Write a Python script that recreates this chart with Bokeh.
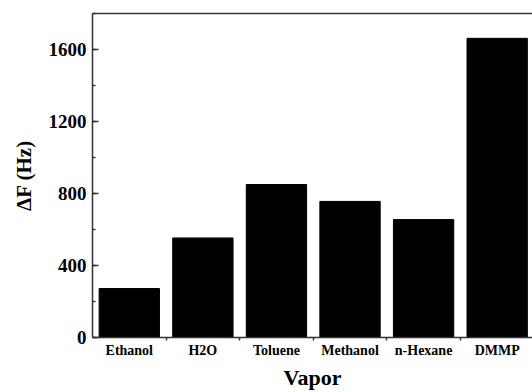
from bokeh.plotting import figure
from bokeh.models import Range1d, LinearAxis, FixedTicker, SingleIntervalTicker
from bokeh.embed import file_html
from bokeh.resources import INLINE

categories = ["Ethanol", "H2O", "Toluene", "Methanol", "n-Hexane", "DMMP"]
values = [272, 553, 850, 756, 655, 1662]
y_ticks_interval = 400

FONT = "Liberation Serif"

xs = list(range(len(categories)))

p = figure(width=532, height=392, output_backend="svg", toolbar_location=None,
           x_range=Range1d(-0.5, len(categories) - 0.52), y_range=Range1d(0, 1800),
           x_axis_type=None, y_axis_type=None,
           min_border_left=92, min_border_right=0, min_border_top=13, min_border_bottom=54)
p.outline_line_color = None
p.background_fill_color = "white"
p.border_fill_color = "white"
p.xgrid.visible = False
p.ygrid.visible = False

p.vbar(x=xs, top=values, width=0.82, fill_color="black", line_color="black", line_width=1)

# left axis
yax = LinearAxis(ticker=SingleIntervalTicker(interval=y_ticks_interval, num_minor_ticks=2))
yax.axis_line_color = "#333333"
yax.axis_line_width = 1.5
yax.major_tick_in = 6
yax.major_tick_out = 0
yax.minor_tick_in = 3
yax.minor_tick_out = 0
yax.major_tick_line_color = "#333333"
yax.minor_tick_line_color = "#333333"
yax.major_tick_line_width = 1.5
yax.minor_tick_line_width = 1.5
yax.major_label_standoff = 6
yax.major_label_text_font = FONT
yax.major_label_text_font_style = "bold"
yax.major_label_text_font_size = "19px"
yax.major_label_text_color = "black"
yax.axis_label = "ΔF (Hz)"
yax.axis_label_text_font = FONT
yax.axis_label_text_font_style = "bold"
yax.axis_label_text_font_size = "21px"
yax.axis_label_text_color = "black"
yax.axis_label_standoff = 10
p.add_layout(yax, "left")

# bottom axis
xax = LinearAxis(ticker=FixedTicker(ticks=xs, minor_ticks=[i + 0.5 for i in xs[:-1]]))
xax.major_label_overrides = {i: c for i, c in zip(xs, categories)}
xax.axis_line_color = "#333333"
xax.axis_line_width = 1.5
xax.major_tick_line_color = None
xax.major_tick_in = 0
xax.major_tick_out = 3
xax.minor_tick_in = 0
xax.minor_tick_out = 3
xax.minor_tick_line_color = "#333333"
xax.minor_tick_line_width = 1.5
xax.major_label_standoff = 2
xax.major_label_text_font = FONT
xax.major_label_text_font_style = "bold"
xax.major_label_text_font_size = "14px"
xax.major_label_text_color = "black"
xax.axis_label = "Vapor"
xax.axis_label_text_font = FONT
xax.axis_label_text_font_style = "bold"
xax.axis_label_text_font_size = "22px"
xax.axis_label_text_color = "black"
xax.axis_label_standoff = 4
p.add_layout(xax, "below")

# top frame line
tax = LinearAxis(ticker=FixedTicker(ticks=[]))
tax.axis_line_color = "#333333"
tax.axis_line_width = 1.5
tax.major_tick_line_color = None
tax.minor_tick_line_color = None
tax.major_label_text_font_size = "0px"
tax.major_label_standoff = 0
tax.major_tick_out = 0
tax.major_tick_in = 0
p.add_layout(tax, "above")

open("out.html", "w").write(file_html(p, INLINE))
